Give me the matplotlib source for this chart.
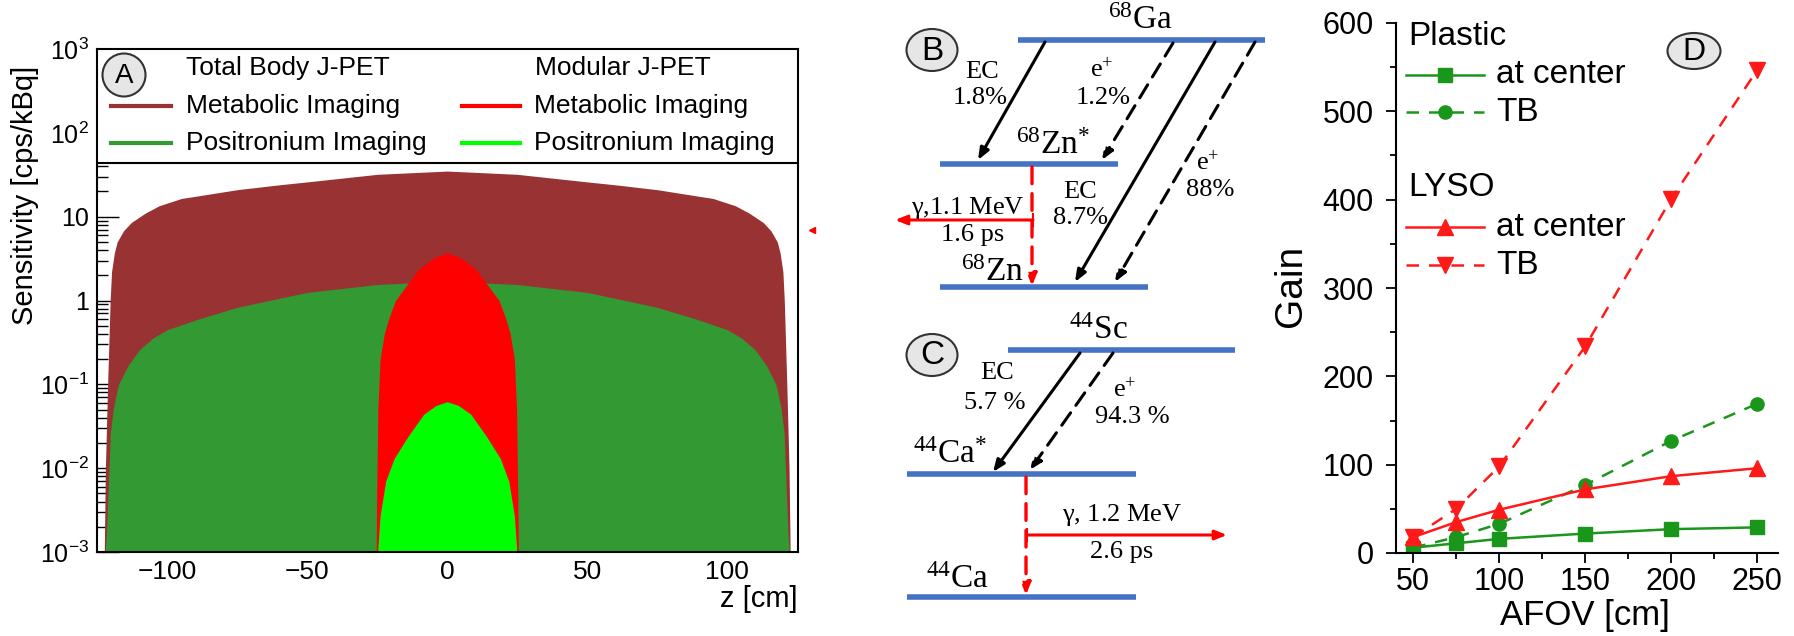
import matplotlib
matplotlib.use('Agg')
import matplotlib.pyplot as plt
from matplotlib.patches import Ellipse, Rectangle
from matplotlib.ticker import FixedLocator, FuncFormatter, MultipleLocator, LogLocator, NullFormatter

plt.rcParams['font.family'] = ['Liberation Sans', 'DejaVu Sans']
plt.rcParams['mathtext.fontset'] = 'custom'
plt.rcParams['mathtext.rm'] = 'Liberation Sans'
plt.rcParams['mathtext.it'] = 'Liberation Sans:italic'
plt.rcParams['mathtext.default'] = 'regular'

# ---- panel A: sensitivity profiles ----
tb_metab_z = [-122.6, -122.2, -121.4, -120.5, -120.0, -119.0, -118.0, -115.7, -113.0, -108.0, -103.0, -95, -90,
              -75, -60, -50, -25, 0,
              25, 50, 60, 75, 90, 95, 103.0, 108.0, 113.0, 115.7, 118.0, 119.0, 120.0, 120.5, 121.4, 122.2, 122.6]
tb_metab_s = [0.001, 0.01, 0.1, 1.0, 2.2, 3.7, 5.0, 6.8, 8.5, 11.0, 13.5, 16.5, 17.5,
              21, 24, 26, 32, 35,
              32, 26, 24, 21, 17.5, 16.5, 13.5, 11.0, 8.5, 6.8, 5.0, 3.7, 2.2, 1.0, 0.1, 0.01, 0.001]
tb_pos_z = [-122.3, -121.8, -120.4, -119.3, -117.5, -114, -110, -105, -100, -89, -75, -50, -25, 0,
            25, 50, 75, 89, 100, 105, 110, 114, 117.5, 119.3, 120.4, 121.8, 122.3]
tb_pos_s = [0.001, 0.0017, 0.027, 0.053, 0.1, 0.17, 0.26, 0.36, 0.45, 0.6, 0.83, 1.25, 1.55, 1.7,
            1.55, 1.25, 0.83, 0.6, 0.45, 0.36, 0.26, 0.17, 0.1, 0.053, 0.027, 0.0017, 0.001]
mod_metab_z = [-25.4, -25.2, -24.8, -24, -22.5, -21, -18.5, -14, -10, -5, 0,
               5, 10, 14, 18.5, 21, 22.5, 24, 24.8, 25.2, 25.4]
mod_metab_s = [0.001, 0.005, 0.05, 0.2, 0.4, 0.6, 1.0, 1.6, 2.4, 3.2, 3.7,
               3.2, 2.4, 1.6, 1.0, 0.6, 0.4, 0.2, 0.05, 0.005, 0.001]
mod_pos_z = [-24.9, -24, -22, -19, -14, -8.4, -4, 0, 4, 8.4, 14, 19, 22, 24, 24.9]
mod_pos_s = [0.001, 0.0027, 0.007, 0.013, 0.024, 0.044, 0.056, 0.062, 0.056, 0.044, 0.024, 0.013, 0.007, 0.0027, 0.001]

# ---- panel D: gain vs AFOV ----
afov = [50, 75, 100, 150, 200, 250]
plastic_center = [6, 11, 16, 22, 27, 29]
plastic_tb = [6, 18, 33, 77, 127, 169]
lyso_center = [18, 35, 49, 72, 87, 96]
lyso_tb = [18, 50, 98, 234, 401, 547]

# ---- panels B/C: decay schemes (pixel layout) ----
level_x0 = [1018, 940, 940, 1008, 907, 907]
level_x1 = [1265, 1118, 1148, 1235, 1136, 1136]
level_y = [40, 164, 287, 350, 474, 597]
level_labels = [r'$^{68}$Ga', r'$^{68}$Zn$^{*}$', r'$^{68}$Zn', r'$^{44}$Sc', r'$^{44}$Ca$^{*}$', r'$^{44}$Ca']
level_label_xy = [(1140, 21), (1053, 146), (993, 273), (1098, 331), (950, 455), (957, 580)]

W, H = 1794, 636
fig = plt.figure(figsize=(W / 100, H / 100), dpi=100)


def px_rect(x0, y0, x1, y1):
    return [x0 / W, 1 - y1 / H, (x1 - x0) / W, (y1 - y0) / H]


# ================= Panel A =================
ax = fig.add_axes(px_rect(97, 49, 798, 552))
ax.set_yscale('log')
ax.set_xlim(-125.2, 125.4)
ax.set_ylim(1e-3, 1e3)
ax.set_axisbelow(True)
ax.fill_between(tb_metab_z, 1e-4, tb_metab_s, color='#993333', lw=0)
ax.fill_between(tb_pos_z, 1e-4, tb_pos_s, color='#339933', lw=0)
ax.fill_between(mod_metab_z, 1e-4, mod_metab_s, color='#ff0000', lw=0)
ax.fill_between(mod_pos_z, 1e-4, mod_pos_s, color='#00ff00', lw=0)

ax.yaxis.set_major_locator(FixedLocator([1e-3, 1e-2, 1e-1, 1, 10, 100, 1000]))
ylabels = {1e-3: r'$10^{-3}$', 1e-2: r'$10^{-2}$', 1e-1: r'$10^{-1}$', 1: '1', 10: '10',
           100: r'$10^{2}$', 1000: r'$10^{3}$'}
ax.yaxis.set_major_formatter(FuncFormatter(lambda v, p: ylabels.get(round(v, 6), '')))
ax.yaxis.set_minor_locator(LogLocator(base=10, subs=range(2, 10)))
ax.yaxis.set_minor_formatter(NullFormatter())
ax.xaxis.set_major_locator(MultipleLocator(50))
ax.tick_params(axis='y', which='major', direction='in', length=16, width=1, labelsize=18, pad=6)
ax.tick_params(axis='y', which='minor', direction='in', length=8, width=1)
ax.tick_params(axis='x', which='major', direction='in', length=12, labelsize=19, pad=6)
for sp in ax.spines.values():
    sp.set_linewidth(1.5)

# legend box
ax.add_patch(Rectangle((0, 0.773), 1, 0.227, transform=ax.transAxes, facecolor='white',
                       edgecolor='black', lw=1.5, zorder=3))
leg_font = 19
ax.text(0.127, 0.962, 'Total Body J-PET', transform=ax.transAxes, fontsize=leg_font, va='center', zorder=4)
ax.text(0.625, 0.962, 'Modular J-PET', transform=ax.transAxes, fontsize=leg_font, va='center', zorder=4)
for (x0, x1, y, col, label) in [(0.02, 0.106, 0.887, '#993333', 'Metabolic Imaging'),
                                (0.02, 0.106, 0.813, '#339933', 'Positronium Imaging'),
                                (0.521, 0.603, 0.887, '#ff0000', 'Metabolic Imaging'),
                                (0.521, 0.603, 0.813, '#00ff00', 'Positronium Imaging')]:
    ax.plot([x0, x1], [y, y], color=col, lw=3, transform=ax.transAxes, zorder=4, clip_on=False)
    ax.text(x1 + 0.021, y, label, transform=ax.transAxes, fontsize=leg_font, va='center', zorder=4)

ax.set_xlabel('z [cm]', fontsize=21, loc='right')
ax.xaxis.set_label_coords(1.0, -0.065)
fig.text(25 / W, 1 - 195 / H, 'Sensitivity [cps/kBq]', rotation=90, ha='center', va='center', fontsize=21)

# ================= Panel D =================
axd = fig.add_axes(px_rect(1396, 23, 1778, 553))
green = '#1a961a'
red = '#ff1a1a'
axd.plot(afov, plastic_center, '-', color=green, lw=1.8, marker='s', ms=9.5)
axd.plot(afov, plastic_tb, color=green, lw=1.8, ls=(0, (5, 4)), marker='o', ms=9.5)
axd.plot(afov, lyso_center, '-', color=red, lw=1.8, marker='^', ms=11)
axd.plot(afov, lyso_tb, color=red, lw=1.8, ls=(0, (5, 4)), marker='v', ms=11)
axd.set_xlim(40, 262)
axd.set_ylim(0, 600)
axd.spines['top'].set_visible(False)
axd.spines['right'].set_visible(False)
for sp in ['left', 'bottom']:
    axd.spines[sp].set_linewidth(1.5)
axd.xaxis.set_major_locator(MultipleLocator(50))
axd.xaxis.set_minor_locator(MultipleLocator(25))
axd.yaxis.set_major_locator(MultipleLocator(100))
axd.yaxis.set_minor_locator(MultipleLocator(50))
axd.set_xticks([50, 100, 150, 200, 250])
axd.tick_params(which='major', direction='out', length=7, width=1.3, labelsize=22)
axd.tick_params(which='minor', direction='out', length=4, width=1.3)
axd.tick_params(axis='y', pad=9)
axd.tick_params(axis='x', pad=3)
fig.text(1585 / W, 1 - 616 / H, 'AFOV [cm]', ha='center', va='center', fontsize=25)
fig.text(1291 / W, 1 - 286 / H, 'Gain', rotation=90, ha='center', va='center', fontsize=28)

# legend of D (axes fraction)
axd.text(0.031, 0.974, 'Plastic', transform=axd.transAxes, fontsize=24, va='center')
axd.text(0.031, 0.689, 'LYSO', transform=axd.transAxes, fontsize=24, va='center')
for (y, col, ls, mk, ms, label) in [(0.902, green, '-', 's', 9.5, 'at center'),
                                    (0.832, green, (0, (5, 4)), 'o', 9.5, 'TB'),
                                    (0.615, red, '-', '^', 11, 'at center'),
                                    (0.543, red, (0, (5, 4)), 'v', 11, 'TB')]:
    axd.plot([0.026, 0.128, 0.230], [y, y, y], color=col, ls=ls, lw=1.8, marker=mk, ms=ms,
             markevery=[1], transform=axd.transAxes, clip_on=False)
    axd.text(0.262, y, label, transform=axd.transAxes, fontsize=24, va='center')

# ================= Panels B and C (pixel overlay) =================
ov = fig.add_axes([0, 0, 1, 1], zorder=10)
ov.set_xlim(0, W)
ov.set_ylim(H, 0)
ov.axis('off')
ov.patch.set_alpha(0)

blue = '#4472c4'
for x0, x1, y in zip(level_x0, level_x1, level_y):
    ov.plot([x0, x1], [y, y], color=blue, lw=4, solid_capstyle='butt')

serif = dict(family='Liberation Serif', math_fontfamily='stix')
for (x, y), lab in zip(level_label_xy, level_labels):
    ov.text(x, y, lab, ha='center', va='center', fontsize=24, **serif)


def arrow(x0, y0, x1, y1, color, dashed, lw=2.2):
    ov.annotate('', xy=(x1, y1), xytext=(x0, y0),
                arrowprops=dict(arrowstyle='-|>,head_length=0.7,head_width=0.28', color=color, lw=lw,
                                linestyle=(0, (5, 3)) if dashed else '-', shrinkA=0, shrinkB=0))


# 68Ga scheme
arrow(1045, 42, 978, 160, 'black', False)
arrow(1173, 43, 1102, 160, 'black', True)
arrow(1215, 42, 1075, 282, 'black', False)
arrow(1255, 42, 1115, 282, 'black', True)
arrow(1032, 167, 1032, 286, 'red', True, lw=2.4)
arrow(1033, 220, 895, 220, 'red', False)
ov.plot([1033, 1033], [214, 226], color='red', lw=1.5)
# 44Sc scheme
arrow(1080, 353, 993, 472, 'black', False)
arrow(1113, 353, 1030, 470, 'black', True)
arrow(1026, 477, 1026, 595, 'red', True, lw=2.4)
arrow(1027, 535, 1227, 535, 'red', False)
ov.plot([1027, 1027], [529, 541], color='red', lw=1.5)
# stray arrow tip left of B
ov.plot([812], [230], marker='<', color='red', ms=5)

small = 19
for (x, y, s) in [(982, 72, 'EC'), (980, 98, '1.8%'), (1102, 70, r'e$^{+}$'), (1103, 98, '1.2%'),
                  (1080, 192, 'EC'), (1080, 218, '8.7%'), (1208, 163, r'e$^{+}$'), (1210, 190, '88%'),
                  (968, 208, r'$\gamma$,1.1 MeV'), (973, 235, '1.6 ps'),
                  (997, 373, 'EC'), (995, 403, '5.7 %'), (1125, 390, r'e$^{+}$'), (1132, 417, '94.3 %'),
                  (1122, 515, r'$\gamma$, 1.2 MeV'), (1122, 552, '2.6 ps')]:
    ov.text(x, y, s, ha='center', va='center', fontsize=small, **serif)

# circled panel letters
for (x, y, w, h, letter, fs) in [(124, 75, 43, 43, 'A', 20), (932, 50, 51, 42, 'B', 24),
                                 (932, 355, 51, 42, 'C', 24), (1694, 51, 53, 36, 'D', 23)]:
    ov.add_patch(Ellipse((x, y), w, h, facecolor='#e6e6e6', edgecolor='#333333', lw=1.5))
    ov.text(x, y + 1, letter, ha='center', va='center', fontsize=fs)

fig.savefig('out.png', dpi=100)
